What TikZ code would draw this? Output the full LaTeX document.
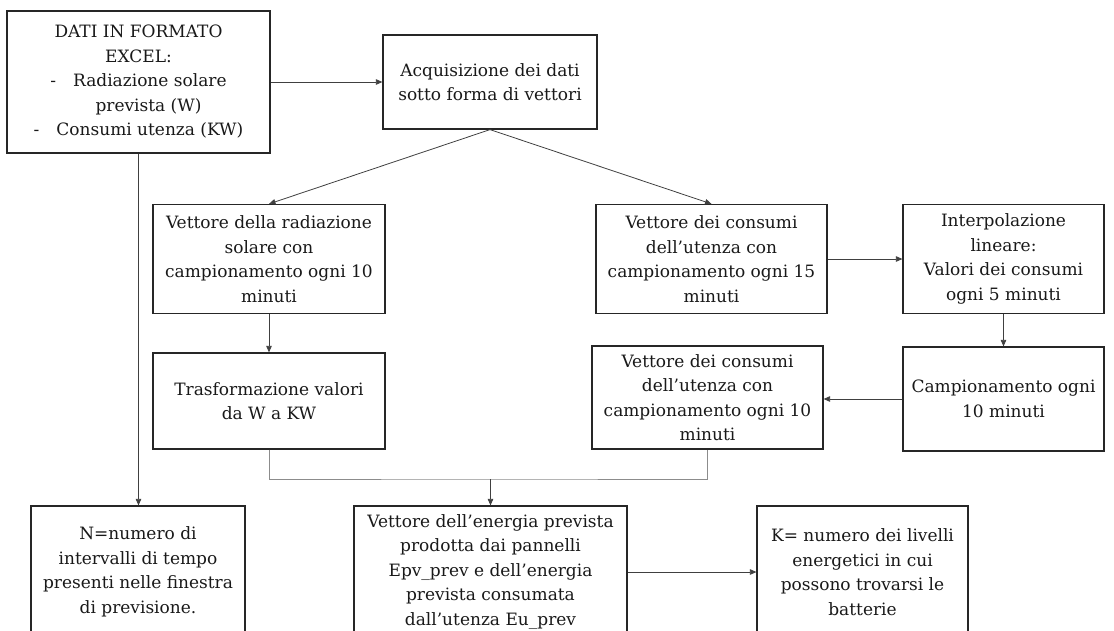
\documentclass[tikz,border=0pt]{standalone}
\usepackage{fontspec}
\setmainfont{DejaVu Serif}
\usetikzlibrary{arrows.meta}
\begin{document}
\begin{tikzpicture}[x=1pt,y=-1pt,
  box/.style={draw=black!85, line width=1.2pt, fill=white, align=center,
    inner sep=2pt, text=black!90, font=\fontsize{17}{24.5}\selectfont},
  link/.style={draw=black!75, line width=0.8pt, -{Triangle[length=6.5pt,width=5.5pt]}},
  joinline/.style={draw=black!45, line width=0.9pt}]
\useasboundingbox (0,0) rectangle (1114,630);
\clip (0,0) rectangle (1114,630);

% first row
\node[box, minimum width=263pt, minimum height=142pt] (b1) at (138.5,82)
  {DATI IN FORMATO\\EXCEL:\\-\quad Radiazione solare\\\hspace*{20pt}prevista (W)\\-\quad Consumi utenza (KW)};
\node[box, minimum width=214pt, minimum height=94pt] (b2) at (490,82)
  {Acquisizione dei dati\\sotto forma di vettori};

% second row
\node[box, minimum width=232pt, minimum height=109pt] (b3) at (269,259)
  {Vettore della radiazione\\solare con\\campionamento ogni 10\\minuti};
\node[box, minimum width=231pt, minimum height=109pt] (b4) at (711.5,259)
  {Vettore dei consumi\\dell’utenza con\\campionamento ogni 15\\minuti};
\node[box, minimum width=201pt, minimum height=109pt] (b6) at (1003.5,259)
  {Interpolazione\\lineare:\\Valori dei consumi\\ogni 5 minuti};

% third row
\node[box, minimum width=232pt, minimum height=96pt] (b5) at (269,401)
  {Trasformazione valori\\da W a KW};
\node[box, minimum width=231pt, minimum height=103pt] (b8) at (707.5,397.5)
  {Vettore dei consumi\\dell’utenza con\\campionamento ogni 10\\minuti};
\node[box, minimum width=201pt, minimum height=104pt] (b7) at (1003.5,399)
  {Campionamento ogni\\10 minuti};

% bottom row
\node[box, minimum width=214pt, minimum height=132pt] (b10) at (138,572)
  {N=numero di\\intervalli di tempo\\presenti nelle finestra\\di previsione.};
\node[box, minimum width=273pt, minimum height=132pt] (b9) at (490.5,572)
  {Vettore dell’energia prevista\\prodotta dai pannelli\\Epv\_prev e dell’energia\\prevista consumata\\dall’utenza Eu\_prev};
\node[box, minimum width=211pt, minimum height=132pt] (b11) at (862.5,572)
  {K= numero dei livelli\\energetici in cui\\possono trovarsi le\\batterie};

% connectors
\draw[link] (b1.east) -- (b2.west);
\draw[link] (b2.south) -- (b3.north);
\draw[link] (b2.south) -- (b4.north);
\draw[link] (b3.south) -- (b5.north);
\draw[link] (b4.east) -- (b6.west);
\draw[link] (b6.south) -- (b7.north);
\draw[link] (b7.west) -- (b7.west -| b8.east);
\draw[link] (b1.south) -- (b1.south |- b10.north);
\coordinate (jn) at (490.5,479);
\draw[joinline] (b5.south) |- (jn) -| (b8.south);
\draw[link] (jn) -- (b9.north);
\draw[link] (b9.east) -- (b9.east -| b11.west);
\end{tikzpicture}
\end{document}
